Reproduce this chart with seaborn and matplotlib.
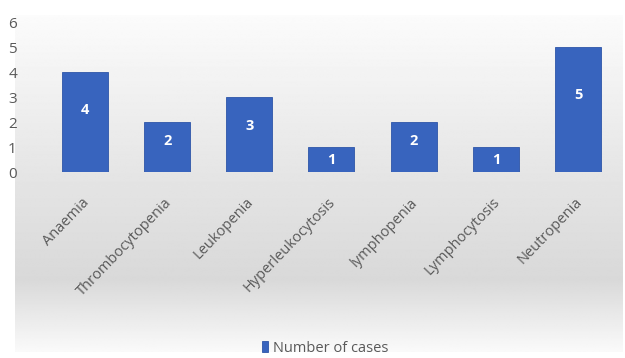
import numpy as np
import pandas as pd
import matplotlib
matplotlib.use("Agg")
import matplotlib.pyplot as plt
import matplotlib.transforms as mtransforms
import seaborn as sns

categories = ["Anaemia", "Thrombocytopenia", "Leukopenia", "Hyperleukocytosis",
              "lymphopenia", "Lymphocytosis", "Neutropenia"]
cases = [4, 2, 3, 1, 2, 1, 5]
series_name = "Number of cases"

sns.set_style("white")
plt.rcParams["font.family"] = ["Open Sans", "DejaVu Sans"]

df = pd.DataFrame({"category": categories, "cases": cases})

W, H = 625, 358
fig = plt.figure(figsize=(W / 100, H / 100), dpi=100)
fig.patch.set_facecolor("white")

# background gradient panel (white -> gray -> white)
bg = fig.add_axes([15 / W, 1 - 352 / H, 608 / W, 337 / H], zorder=-5)
ys = np.array([0, 165, 265, 337]) / 337
vals = np.array([0.985, 0.895, 0.85, 0.98])
grid = np.interp(np.linspace(0, 1, 300), ys, vals)
bg.imshow(np.repeat(grid[:, None], 2, axis=1), cmap="gray", vmin=0, vmax=1,
          aspect="auto", extent=[0, 1, 0, 1], interpolation="bilinear")
bg.axis("off")

# main plot area: 0 at y=172px, 6 at y=22px
ax = fig.add_axes([22 / W, 1 - 172 / H, 593 / W, 150 / H])
ax.patch.set_alpha(0)
sns.barplot(data=df, x="category", y="cases", color="#3864be", width=0.56,
            saturation=1, ax=ax, edgecolor="#2d55a8", linewidth=0.6,
            label=series_name)
ax.set_xlim(-0.766, 6.45)
ax.set_ylim(0, 6)
ax.set_yticks(range(0, 7))
ax.set_xlabel("")
ax.set_ylabel("")
for s in ax.spines.values():
    s.set_visible(False)
ax.tick_params(axis="y", length=0, pad=4, labelsize=11, labelcolor="#595959")
ax.tick_params(axis="x", length=0, pad=0, labelsize=10.5, labelcolor="#595959")
for lab in ax.get_yticklabels():
    lab.set_horizontalalignment("left")
    lab.set_x(-0.014)
ax.set_xticks(range(len(categories)))
ax.set_xticklabels(categories, rotation=46, ha="right", va="center",
                   rotation_mode="anchor")
shift = mtransforms.ScaledTranslation(2 / 100, -28 / 100, fig.dpi_scale_trans)
for lab in ax.get_xticklabels():
    lab.set_transform(lab.get_transform() + shift)

for p, v in zip(ax.patches, cases):
    ax.text(p.get_x() + p.get_width() / 2, min(v * 0.62, v - 0.5), str(v),
            ha="center", va="center", color="white", fontsize=10.5,
            fontweight="bold")

leg = ax.legend(loc="center", bbox_to_anchor=(0.52, 1 - 348 / H),
                bbox_transform=fig.transFigure, frameon=False, fontsize=10.5,
                handlelength=0.45, handleheight=0.7, handletextpad=0.3)
for t in leg.get_texts():
    t.set_color("#595959")

fig.savefig("out.png", dpi=100)
